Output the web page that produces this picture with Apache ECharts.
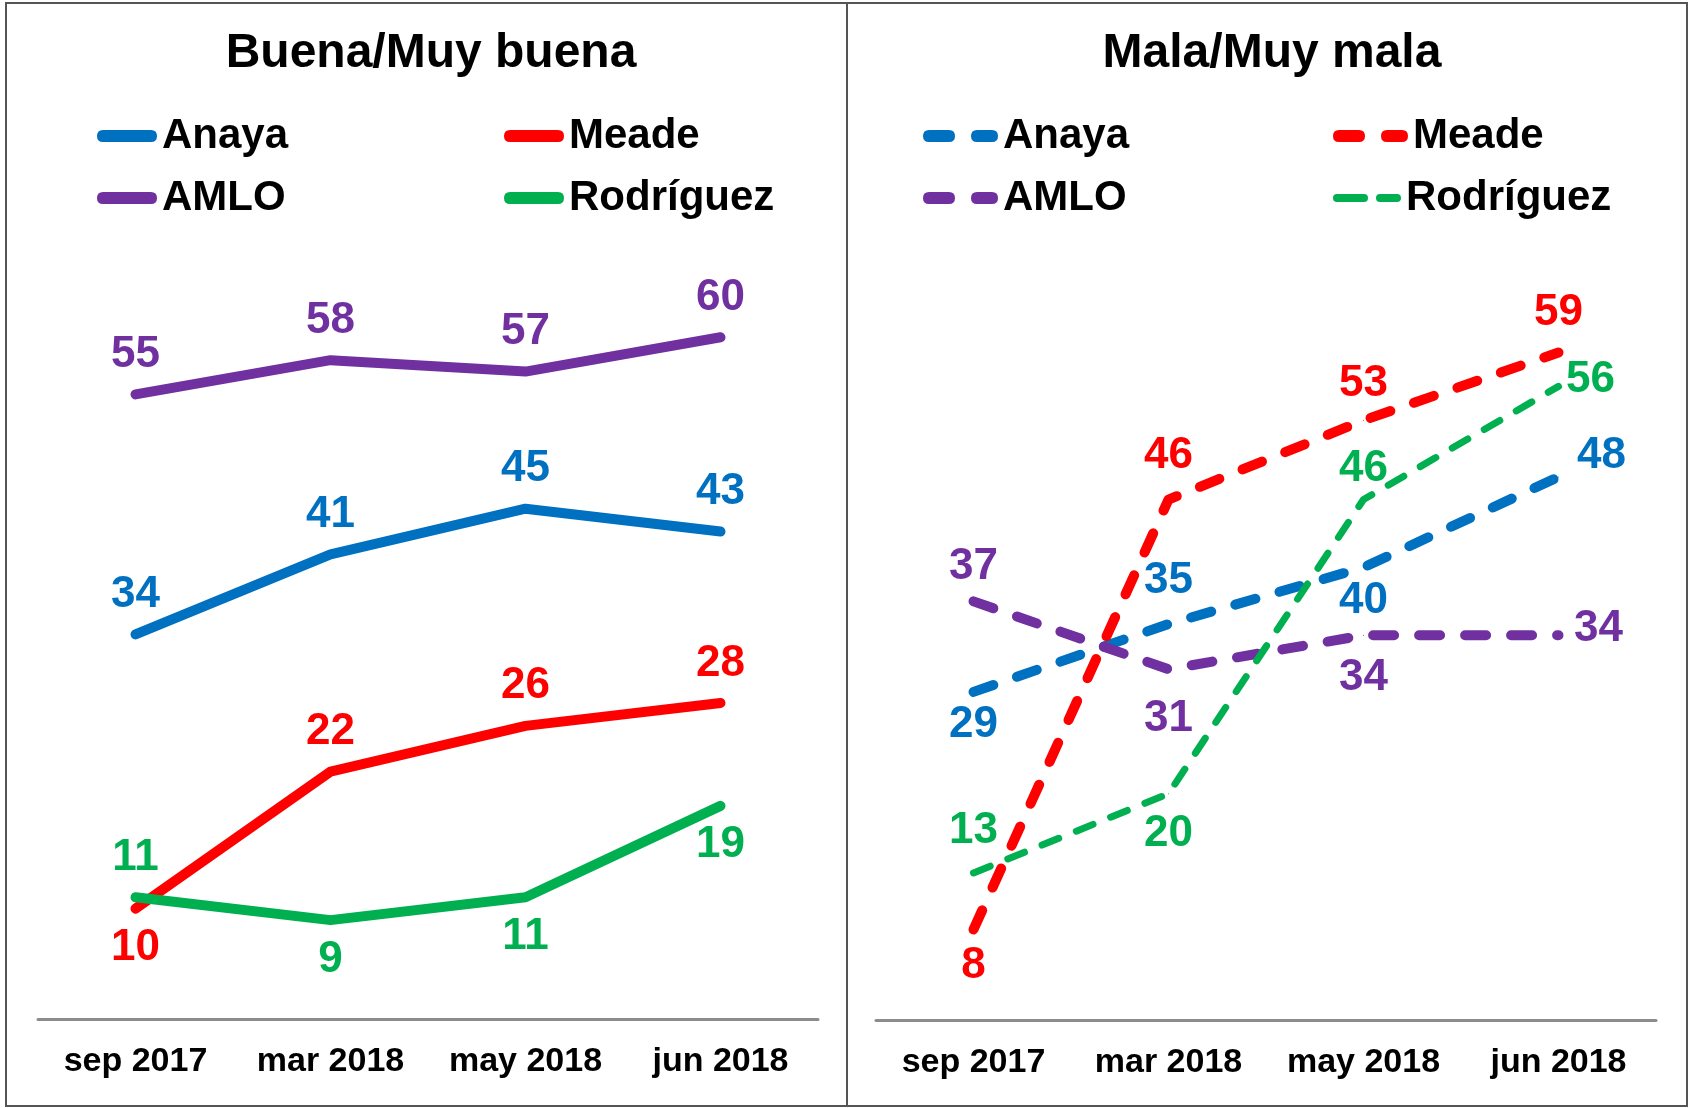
<html>
<head>
<meta charset="utf-8">
<title>Buena / Mala</title>
<script src="https://cdn.jsdelivr.net/npm/echarts@6/dist/echarts.min.js"></script>
<style>
  html, body { margin: 0; padding: 0; background: #fff; }
  #main { width: 1691px; height: 1108px; }
</style>
</head>
<body>
<div id="main"></div>
<script type="text/javascript">
// categorias del eje x
var cats = ['sep 2017', 'mar 2018', 'may 2018', 'jun 2018'];
var names = ['Anaya', 'Meade', 'AMLO', 'Rodríguez'];
var colors = ['#0070C0', '#FF0000', '#7030A0', '#00B050'];

// Buena/Muy buena
var buenaAnaya = [34, 41, 45, 43];
var buenaMeade = [10, 22, 26, 28];
var buenaAmlo = [55, 58, 57, 60];
var buenaRodriguez = [11, 9, 11, 19];

// Mala/Muy mala
var malaAnaya = [29, 35, 40, 48];
var malaMeade = [8, 46, 53, 59];
var malaAmlo = [37, 31, 34, 34];
var malaRodriguez = [13, 20, 46, 56];

// donde va cada etiqueta (arriba / abajo / derecha)
var buenaPos = {
    Anaya: ['top', 'top', 'top', 'top'],
    Meade: ['bottom', 'top', 'top', 'top'],
    AMLO: ['top', 'top', 'top', 'top'],
    'Rodríguez': ['top', 'bottom', 'bottom', 'bottom']
};
var malaPos = {
    Anaya: ['bottom', 'top', 'bottom', 'right'],
    Meade: ['bottom', 'top', 'top', 'top'],
    AMLO: ['top', 'bottom', 'bottom', 'right'],
    'Rodríguez': ['top', 'bottom', 'top', 'right']
};
var malaDist = {
    Anaya: [10, 21, 11, 18],
    Meade: [14, 21, 14, 17],
    AMLO: [12, 27, 20, 15],
    'Rodríguez': [20, 18, 8, 7]
};
// subida de las etiquetas a la derecha
var malaDy = { Anaya: -21, Meade: 0, AMLO: -6, 'Rodríguez': -7 };

var font = 'Liberation Sans, Arial, sans-serif';
var myChart = echarts.init(document.getElementById('main'));

function makeData(vals, pos, dist, dy) {
    var out = [];
    for (var i = 0; i < vals.length; i++) {
        var lb = { position: pos[i], distance: dist ? dist[i] : 17 };
        if (pos[i] == 'right') {
            lb.offset = [0, dy || 0];
        }
        out.push({ value: vals[i], label: lb });
    }
    return out;
}

function lineSeries(name, idx, vals, pos, dist, dy, color, lineStyle, z) {
    return {
        name: name,
        type: 'line',
        xAxisIndex: idx,
        yAxisIndex: idx,
        symbol: 'circle',
        symbolSize: 1,
        showSymbol: true,
        z: z,
        animation: false,
        data: makeData(vals, pos, dist, dy),
        lineStyle: lineStyle,
        label: {
            show: true,
            color: color,
            fontSize: 44,
            fontWeight: 'bold',
            fontFamily: font
        },
        itemStyle: { color: color }
    };
}

var solid = function (c) { return { color: c, width: 10, cap: 'round', join: 'round' }; };
var dashLong = function (c) { return { color: c, width: 10, type: [21, 25], cap: 'round', join: 'round' }; };
var dashShort = function (c) { return { color: c, width: 7, type: [18, 19], cap: 'round', join: 'round' }; };

var buenaVals = [buenaAnaya, buenaMeade, buenaAmlo, buenaRodriguez];
var malaVals = [malaAnaya, malaMeade, malaAmlo, malaRodriguez];

var series = [];
for (var i = 0; i < 4; i++) {
    series.push(lineSeries(names[i], 0, buenaVals[i], buenaPos[names[i]], null, 0, colors[i], solid(colors[i]), 2 + i));
}
// orden de dibujo a la derecha: Anaya, AMLO, Rodriguez, Meade
var malaZ = [2, 5, 3, 4];
for (var j = 0; j < 4; j++) {
    var ls = j == 3 ? dashShort(colors[j]) : dashLong(colors[j]);
    series.push(lineSeries(names[j] + '|mala', 1, malaVals[j], malaPos[names[j]], malaDist[names[j]], malaDy[names[j]], colors[j], ls, malaZ[j]));
}

// iconos de la leyenda: barra redondeada y dos guiones
var iconSolid = 'path://M6,0L54,0Q60,0 60,6Q60,12 54,12L6,12Q0,12 0,6Q0,0 6,0Z';
var iconDash = 'path://M6,0L26,0Q32,0 32,6Q32,12 26,12L6,12Q0,12 0,6Q0,0 6,0Z' +
    'M54,0L69,0Q75,0 75,6Q75,12 69,12L54,12Q48,12 48,6Q48,0 54,0Z';
var iconDashShort = 'path://M4,0L31,0Q35,0 35,4Q35,8 31,8L4,8Q0,8 0,4Q0,0 4,0Z' +
    'M47,0L64,0Q68,0 68,4Q68,8 64,8L47,8Q43,8 43,4Q43,0 47,0Z';

// leyendas, una por elemento
var legends = [];
var legX = [[92, 499], [918, 1328]];
var legY = [110, 172];
for (var p = 0; p < 2; p++) {
    for (var k = 0; k < 4; k++) {
        var icon = iconSolid, w = 60, h = 12;
        if (p == 1) {
            icon = k == 3 ? iconDashShort : iconDash;
            w = k == 3 ? 68 : 75;
            h = k == 3 ? 8 : 12;
        }
        legends.push({
            data: [{ name: p == 0 ? names[k] : names[k] + '|mala', icon: icon }],
            left: legX[p][k % 2],
            top: legY[Math.floor(k / 2)],
            itemWidth: w,
            itemHeight: h,
            itemGap: 0,
            selectedMode: false,
            formatter: function (n) { return n.split('|')[0]; },
            textStyle: { fontSize: 42, fontWeight: 'bold', color: '#000', fontFamily: font }
        });
    }
}

var xAxisBase = function (gi) {
    return {
        type: 'category',
        gridIndex: gi,
        data: cats,
        boundaryGap: true,
        axisTick: { show: false },
        axisLine: { lineStyle: { color: '#8c8c8c', width: 3 } },
        axisLabel: { color: '#000', fontSize: 34, fontWeight: 'bold', fontFamily: font, margin: 26, interval: 0 }
    };
};

myChart.setOption({
    backgroundColor: '#fff',
    animation: false,
    title: [
        { text: 'Buena/Muy buena', left: 426, top: 25, textAlign: 'center',
          textStyle: { fontSize: 48, fontWeight: 'bold', color: '#000', fontFamily: font } },
        { text: 'Mala/Muy mala', left: 1267, top: 25, textAlign: 'center',
          textStyle: { fontSize: 48, fontWeight: 'bold', color: '#000', fontFamily: font } }
    ],
    legend: legends,
    grid: [
        { left: 38, right: 873, top: 223, bottom: 89 },
        { left: 876, right: 35, top: 228, bottom: 88 }
    ],
    xAxis: [xAxisBase(0), xAxisBase(1)],
    yAxis: [
        { type: 'value', gridIndex: 0, min: 0.35, max: 70, show: false },
        { type: 'value', gridIndex: 1, min: 0, max: 70, show: false }
    ],
    graphic: [
        { type: 'rect', shape: { x: 6, y: 3, width: 841, height: 1103 },
          style: { fill: 'none', stroke: '#555', lineWidth: 2 }, silent: true },
        { type: 'rect', shape: { x: 847, y: 3, width: 840, height: 1103 },
          style: { fill: 'none', stroke: '#555', lineWidth: 2 }, silent: true }
    ],
    series: series
});
</script>
</body>
</html>
